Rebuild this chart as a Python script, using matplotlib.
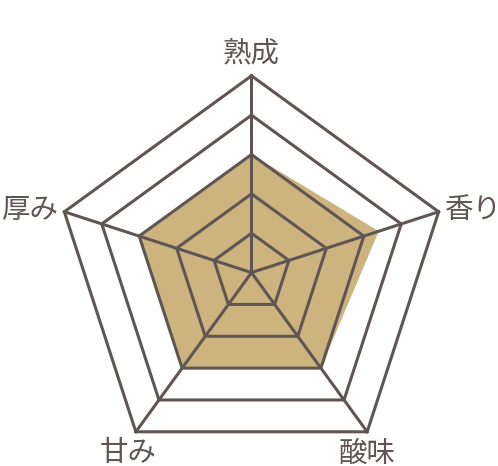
import matplotlib
matplotlib.use("Agg")
import matplotlib.pyplot as plt
import numpy as np

plt.rcParams["font.family"] = ["Noto Sans CJK JP", "DejaVu Sans"]

# axes of the radar, clockwise from the top
labels = ["熟成", "香り", "酸味", "甘み", "厚み"]
values = [3.0, 3.4, 3.0, 3.0, 3.0]
max_value = 5
levels = [1, 2, 3, 4, 5]

line_color = "#5f5653"
fill_color = "#cdb47f"
text_color = "#5f5653"

n = len(labels)
angles = np.pi / 2 - 2 * np.pi * np.arange(n) / n
dirs = np.column_stack([np.cos(angles), np.sin(angles)])

fig = plt.figure(figsize=(4.98, 4.66), dpi=100)
ax = fig.add_axes([0, 0, 1, 1])
ax.set_xlim(-6.390, 6.263)
ax.set_ylim(-4.914, 6.926)
ax.set_aspect("equal")
ax.axis("off")

# filled data polygon
pts = dirs * np.array(values)[:, None]
ax.fill(pts[:, 0], pts[:, 1], color=fill_color, lw=0, zorder=1)

# grid rings
for lv in levels:
    ring = dirs * lv
    ring = np.vstack([ring, ring[:1]])
    ax.plot(ring[:, 0], ring[:, 1], color=line_color, lw=2.2, zorder=2,
            solid_joinstyle="miter")

# spokes
for d in dirs:
    ax.plot([0, d[0] * max_value], [0, d[1] * max_value], color=line_color,
            lw=2.2, zorder=2)

# labels
lab_kw = dict(fontsize=20.5, color=text_color)
ax.text(0, 5.55, labels[0], ha="center", va="center", **lab_kw)
ax.text(dirs[1, 0] * 5 + 0.15, dirs[1, 1] * 5 + 0.05, labels[1], ha="left", va="center", **lab_kw)
ax.text(dirs[2, 0] * 5, dirs[2, 1] * 5 - 0.55, labels[2], ha="center", va="center", **lab_kw)
ax.text(dirs[3, 0] * 5 - 0.2, dirs[3, 1] * 5 - 0.55, labels[3], ha="center", va="center", **lab_kw)
ax.text(dirs[4, 0] * 5 - 0.15, dirs[4, 1] * 5 + 0.05, labels[4], ha="right", va="center", **lab_kw)

fig.savefig("out.png", dpi=100)
